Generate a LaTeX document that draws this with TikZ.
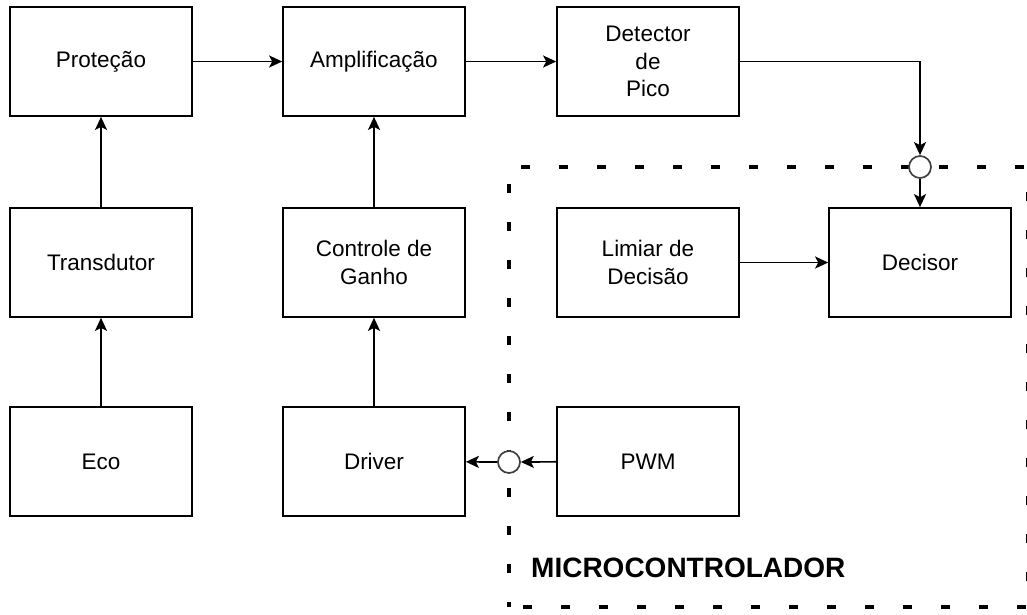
\documentclass[tikz,border=0pt]{standalone}
\usepackage{fontspec}
\setmainfont{Liberation Sans}
\usetikzlibrary{arrows.meta}
\begin{document}
\begin{tikzpicture}[x=1pt,y=-1pt,
  blk/.style={draw=black, line width=1.7pt, minimum width=182pt, minimum height=109pt, inner sep=0pt, align=center, font=\fontsize{22.5}{27.5}\selectfont, text=black},
  jn/.style={circle, draw=black!75, fill=white, line width=1.7pt, minimum size=22pt, inner sep=0pt},
  arr/.style={line width=1.7pt, -{Stealth[length=13pt,width=12pt,inset=3pt]}},
  mcu/.style={line width=4.5pt, dash pattern=on 9pt off 29pt}]
\useasboundingbox (0,0) rectangle (1027,614);
\begin{scope}
\clip (0,0) rectangle (1027,614);
\draw[mcu, dash phase=4pt] (509,607) -- (509,167) -- (1028.5,167) -- (1028.5,607) -- cycle;
\end{scope}
% blocks
\node[blk] (prot) at (101,61.5) {Proteção};
\node[blk] (amp) at (374,61.5) {Amplificação};
\node[blk] (det) at (648,61.5) {Detector\\de\\Pico};
\node[blk] (tra) at (101,262.5) {Transdutor};
\node[blk] (ctl) at (374,262.5) {Controle de\\Ganho};
\node[blk] (lim) at (648,262.5) {Limiar de\\Decisão};
\node[blk] (dec) at (920,262.5) {Decisor};
\node[blk] (eco) at (101,461.5) {Eco};
\node[blk] (drv) at (374,461.5) {Driver};
\node[blk] (pwm) at (648,461.5) {PWM};
% junctions
\node[jn] (j1) at (920,167) {};
\node[jn] (j2) at (509,462) {};
\coordinate (k1) at (920,61.5);
% label
\node[anchor=base west, inner sep=0pt, font=\fontsize{28}{32}\selectfont\bfseries] (lbl) at (531,577) {MICROCONTROLADOR};
% connectors
\draw[arr] (eco) -- (tra);
\draw[arr] (tra) -- (prot);
\draw[arr] (prot) -- (amp);
\draw[arr] (amp) -- (det);
\draw[arr] (det.east) -- (k1) -- (j1);
\draw[arr] (j1) -- (dec);
\draw[arr] (lim) -- (dec);
\draw[arr] (drv) -- (ctl);
\draw[arr] (ctl) -- (amp);
\draw[arr] (pwm) -- (j2);
\draw[arr] (j2) -- (drv);
\end{tikzpicture}
\end{document}
